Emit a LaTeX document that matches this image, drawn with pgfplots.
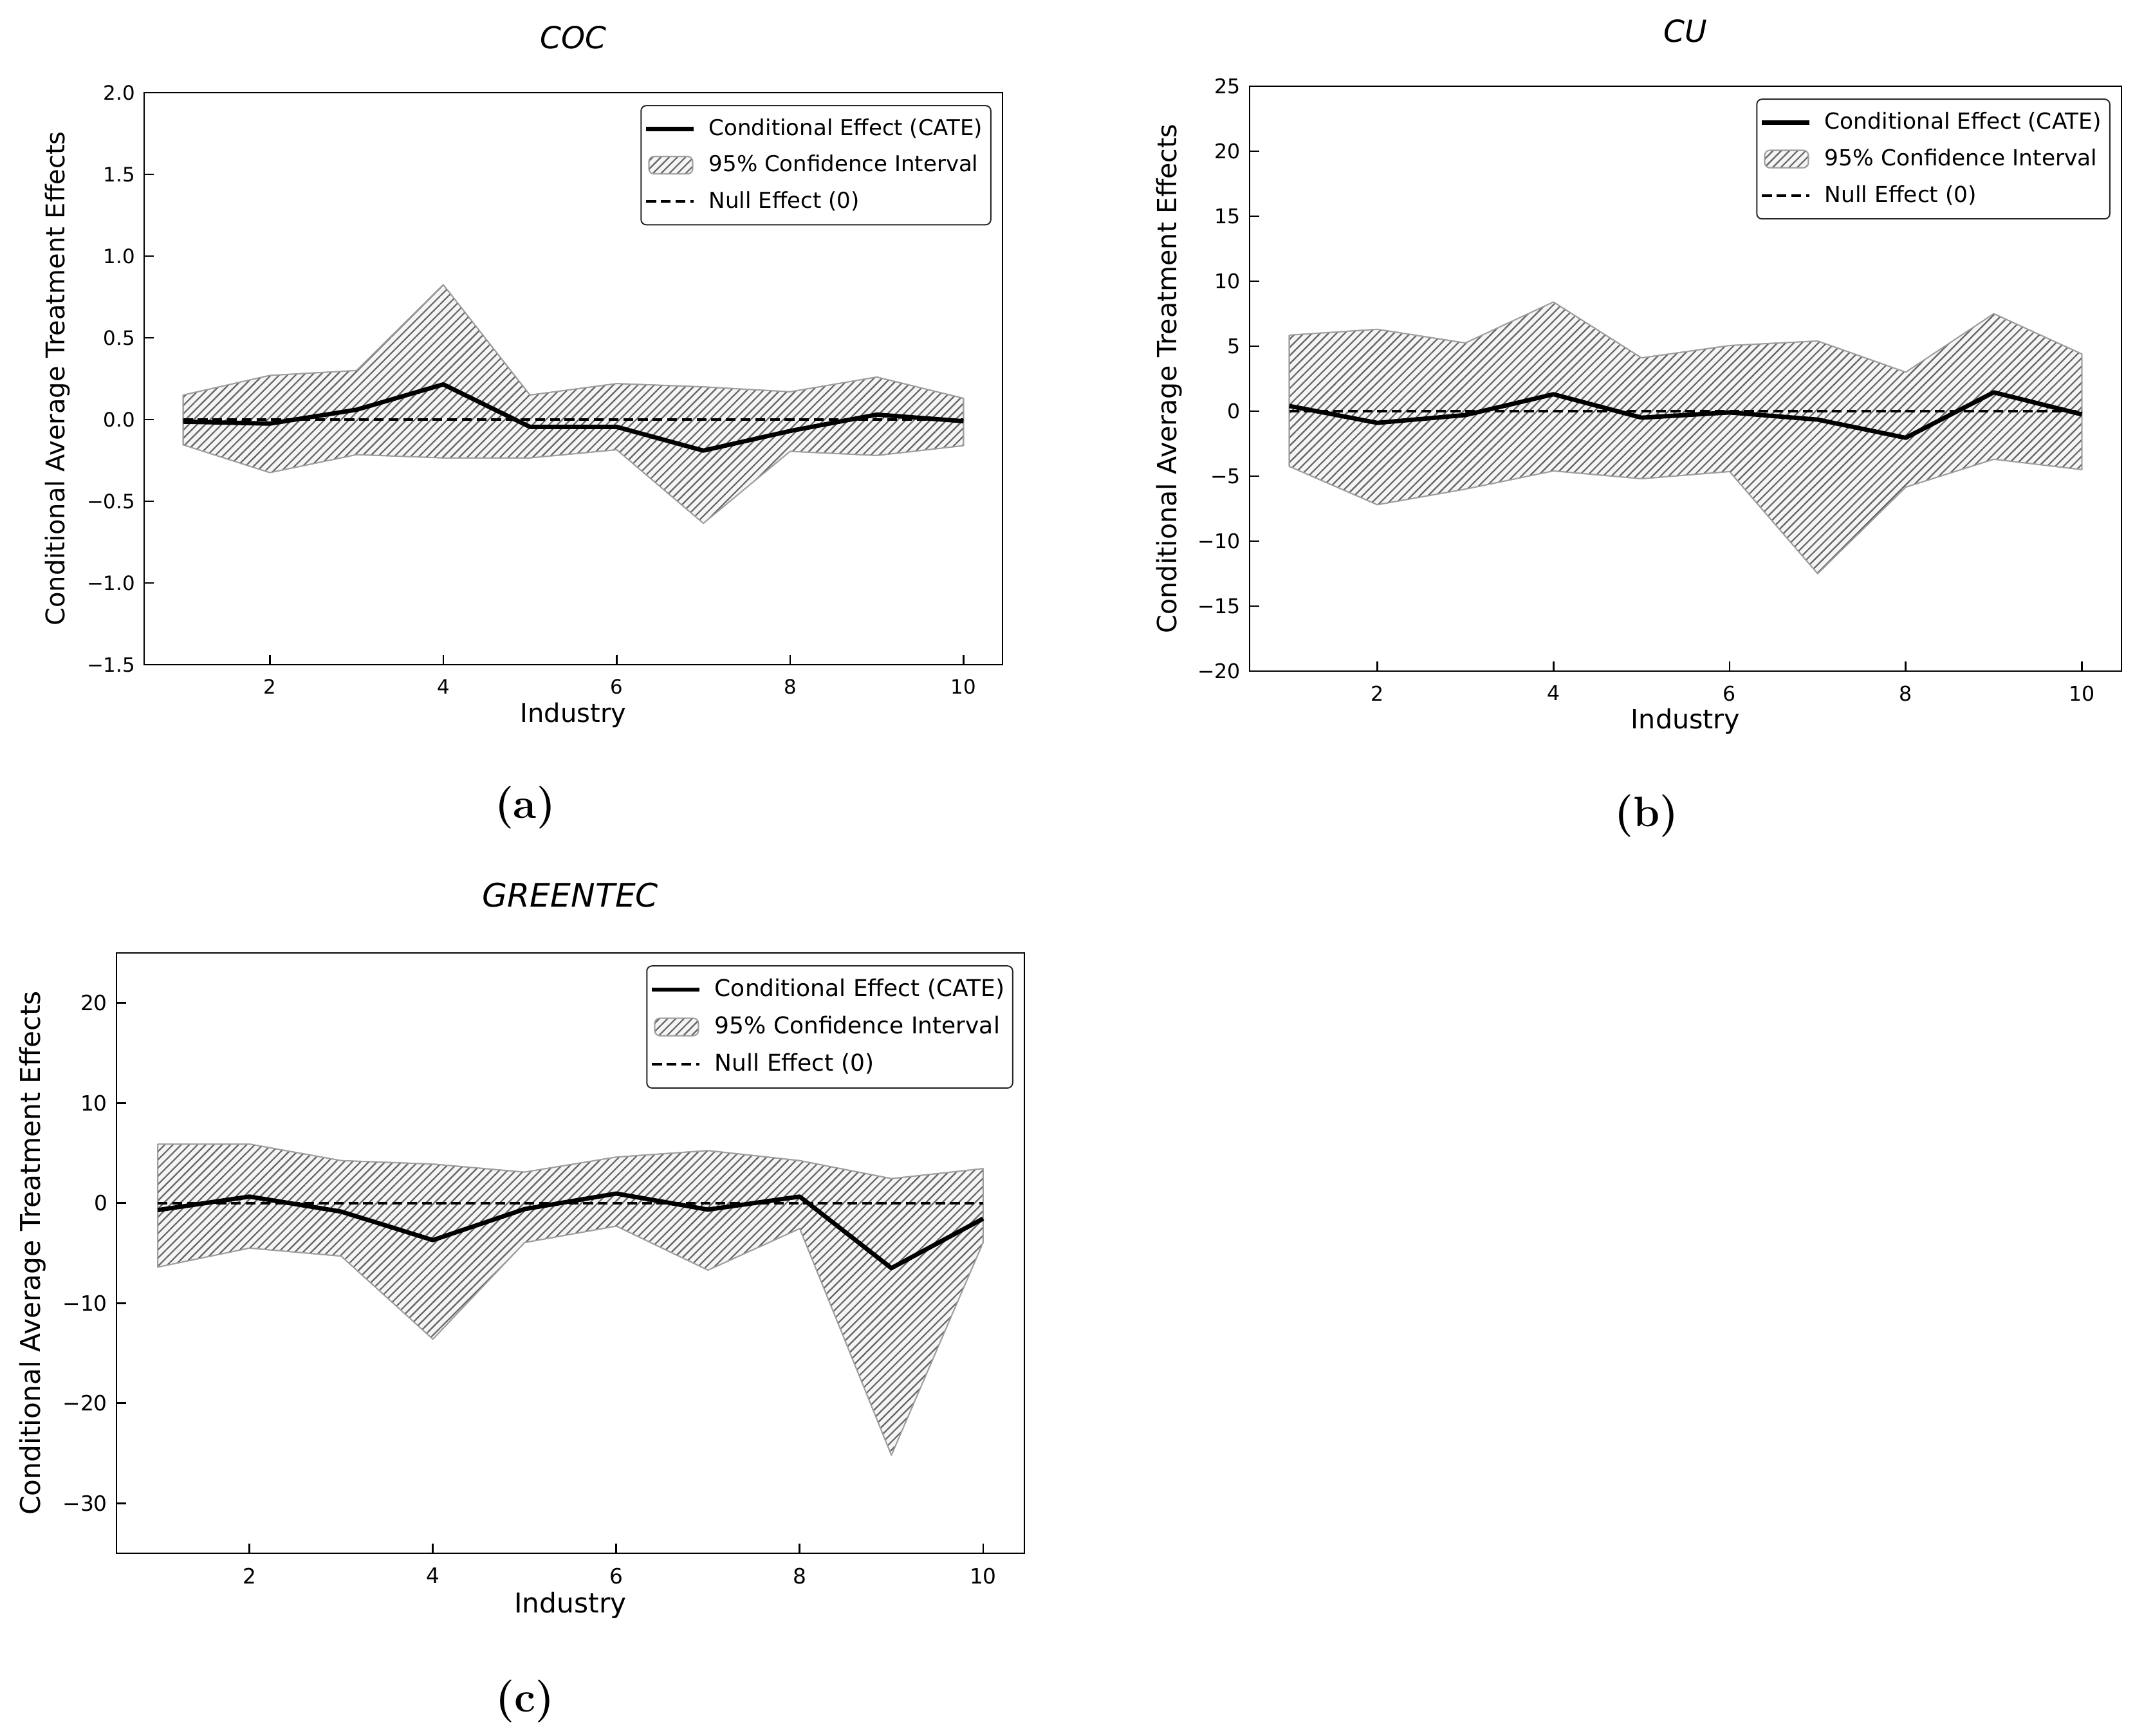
\documentclass[border=0pt]{standalone}
\usepackage{pgfplots}
\pgfplotsset{compat=1.18}
\usepackage{pgfplotstable}
\usetikzlibrary{patterns.meta}
\usepackage{fontspec}
\newfontfamily\dejavu{DejaVu Sans}[ItalicFont={DejaVu Sans Oblique}]

% CATE tables
\pgfplotstableread{
x c
1 -0.013
2 -0.025
3 0.06
4 0.215
5 -0.045
6 -0.045
7 -0.19
8 -0.07
9 0.03
10 -0.01
}\cA
\pgfplotstableread{
x c
1 0.4
2 -0.9
3 -0.3
4 1.3
5 -0.5
6 -0.1
7 -0.65
8 -2.05
9 1.45
10 -0.25
}\cB
\pgfplotstableread{
x c
1 -0.7
2 0.65
3 -0.85
4 -3.7
5 -0.6
6 0.95
7 -0.65
8 0.65
9 -6.5
10 -1.55
}\cC
% confidence band outlines: upper bound 1..10, then lower bound 10..1
\pgfplotstableread{
x y
1 0.15
2 0.27
3 0.30
4 0.825
5 0.15
6 0.22
7 0.20
8 0.17
9 0.26
10 0.13
10 -0.16
9 -0.22
8 -0.195
7 -0.635
6 -0.185
5 -0.235
4 -0.235
3 -0.215
2 -0.325
1 -0.155
1 0.15
}\bA
\pgfplotstableread{
x y
1 5.85
2 6.3
3 5.25
4 8.4
5 4.1
6 5.05
7 5.4
8 3.0
9 7.5
10 4.4
10 -4.5
9 -3.7
8 -5.85
7 -12.5
6 -4.65
5 -5.2
4 -4.6
3 -6.0
2 -7.2
1 -4.25
1 5.85
}\bB
\pgfplotstableread{
x y
1 5.9
2 5.9
3 4.25
4 3.9
5 3.1
6 4.6
7 5.25
8 4.25
9 2.45
10 3.45
10 -3.95
9 -25.2
8 -2.55
7 -6.7
6 -2.3
5 -3.95
4 -13.6
3 -5.3
2 -4.5
1 -6.4
1 5.9
}\bC

\pgfplotsset{
  panel/.style={
    scale only axis, anchor=north west,
    xmin=0.55, xmax=10.45,
    xtick={2,4,6,8,10}, xticklabels={2,4,6,8,10},
    tick align=inside, xtick pos=bottom, ytick pos=left,
    major tick length=3.75pt,
    tick style={line width=0.67pt, black},
    axis line style={line width=0.67pt},
    tick label style={font=\dejavu\fontsize{7.7}{9}\selectfont},
    xticklabel style={yshift=-2.2pt},
    label style={font=\dejavu\fontsize{10}{12}\selectfont},
    xlabel={Industry},
    ylabel={Conditional Average Treatment Effects},
    xlabel style={at={(axis description cs:0.5,0)}, anchor=center, yshift=-19.5pt},
    title style={at={(axis description cs:0.5,1)}, anchor=base, yshift=11.2pt, font=\dejavu\itshape\fontsize{11.8}{13}\selectfont},
    legend style={at={(1,1)}, anchor=north east, xshift=-4.3pt, yshift=-4.8pt,
      draw=black!85, line width=0.5pt, rounded corners=2pt, fill=white,
      font=\dejavu\fontsize{8.5}{10}\selectfont, row sep=2.2pt,
      inner xsep=1.2pt, inner ysep=3pt},
    legend cell align=left,
    legend image code/.code={\draw[##1] (0pt,0pt) -- (18.5pt,0pt);},
  },
  cate/.style={black, line width=1.7pt, line join=round},
  nulll/.style={black, line width=1.0pt, dash pattern=on 3.8pt off 1.9pt},
  ci/.style={fill=gray!8, draw=gray!75, line width=0.45pt, line join=round,
    postaction={pattern={Lines[angle=45,distance=2.25pt,line width=0.55pt]}, pattern color=black!60}},
  ciimg/.style={legend image code/.code={\draw[##1] (1pt,-3.4pt) rectangle (18pt,3.4pt);}},
}

\newcommand{\legendstuff}{%
  \addlegendimage{cate}\addlegendentry{\hspace{3pt}Conditional Effect (CATE)}
  \addlegendimage{ci, ciimg}\addlegendentry{\hspace{3pt}95\% Confidence Interval}
  \addlegendimage{nulll}\addlegendentry{\hspace{3pt}Null Effect (0)}
}

\begin{document}
\begin{tikzpicture}
\path[use as bounding box] (0pt,0pt) rectangle (836.5pt,-674.25pt);

% (a) COC
\begin{axis}[panel, at={(56pt,-36pt)}, width=333.5pt, height=222.25pt,
  ymin=-1.5, ymax=2.0,
  ytick={-1.5,-1.0,-0.5,0,0.5,1.0,1.5,2.0},
  yticklabels={−1.5,−1.0,−0.5,0.0,0.5,1.0,1.5,2.0},
  ylabel style={at={(axis description cs:-0.1005,0.5)}, anchor=center},
  title={COC}]
\legendstuff
\addplot[ci, forget plot] table[x=x,y=y]{\bA};
\addplot[nulll, forget plot] coordinates {(1,0) (10,0)};
\addplot[cate, forget plot] table[x=x,y=c]{\cA};
\end{axis}

% (b) CU
\begin{axis}[panel, at={(485.5pt,-33.5pt)}, width=338.75pt, height=227.25pt,
  ymin=-20, ymax=25,
  ytick={-20,-15,-10,-5,0,5,10,15,20,25},
  yticklabels={−20,−15,−10,−5,0,5,10,15,20,25},
  tick label style={font=\dejavu\fontsize{7.9}{9}\selectfont},
  label style={font=\dejavu\fontsize{10.3}{12}\selectfont},
  legend style={font=\dejavu\fontsize{8.6}{10}\selectfont},
  ylabel style={at={(axis description cs:-0.092,0.5)}, anchor=center},
  title={CU}]
\legendstuff
\addplot[ci, forget plot] table[x=x,y=y]{\bB};
\addplot[nulll, forget plot] coordinates {(1,0) (10,0)};
\addplot[cate, forget plot] table[x=x,y=c]{\cB};
\end{axis}

% (c) GREENTEC
\begin{axis}[panel, at={(45.25pt,-370.25pt)}, width=352.75pt, height=233.25pt,
  ymin=-35, ymax=25,
  ytick={-30,-20,-10,0,10,20},
  yticklabels={−30,−20,−10,0,10,20},
  tick label style={font=\dejavu\fontsize{8.2}{9.5}\selectfont},
  label style={font=\dejavu\fontsize{10.6}{12.5}\selectfont},
  legend style={font=\dejavu\fontsize{9}{10.6}\selectfont},
  ylabel style={at={(axis description cs:-0.092,0.5)}, anchor=center},
  xlabel style={yshift=-0.6pt},
  title style={yshift=0.8pt, font=\dejavu\itshape\fontsize{12.6}{14}\selectfont},
  title={GREENTEC}]
\legendstuff
\addplot[ci, forget plot] table[x=x,y=y]{\bC};
\addplot[nulll, forget plot] coordinates {(1,0) (10,0)};
\addplot[cate, forget plot] table[x=x,y=c]{\cC};
\end{axis}

\node[font=\bfseries\fontsize{16.5}{18}\selectfont] at (204pt,-313.8pt) {(a)};
\node[font=\bfseries\fontsize{16.5}{18}\selectfont] at (639.7pt,-317pt) {(b)};
\node[font=\bfseries\fontsize{16.5}{18}\selectfont] at (204pt,-661pt) {(c)};
\end{tikzpicture}
\end{document}
